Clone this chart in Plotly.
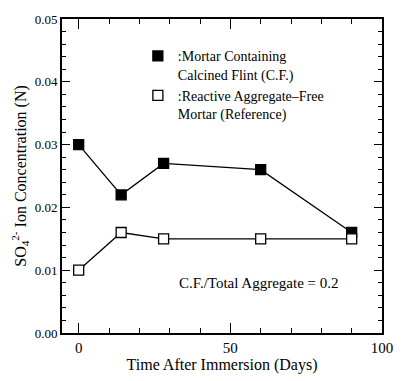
import plotly.graph_objects as go

days = [0, 14, 28, 60, 90]
cf_mortar = [0.030, 0.022, 0.027, 0.026, 0.016]
ref_mortar = [0.010, 0.016, 0.015, 0.015, 0.015]
series_names = [":Mortar Containing<br>Calcined Flint (C.F.)",
                ":Reactive Aggregate\u2013Free<br>Mortar (Reference)"]

FONT = "Liberation Serif"
X_RANGE = [-5.5, 100]
Y_RANGE = [0, 0.05]

fig = go.Figure()
for vals in [cf_mortar, ref_mortar]:
    fig.add_trace(go.Scatter(x=days, y=vals, mode="lines",
                             line=dict(color="black", width=1.3), showlegend=False))
for vals, fill, name in [(cf_mortar, "black", series_names[0]), (ref_mortar, "white", series_names[1])]:
    fig.add_trace(go.Scatter(
        x=days, y=vals, mode="markers", name=name,
        marker=dict(symbol="square", size=10, color=fill, line=dict(color="black", width=1.3))))

L, R, T, B = 62, 14, 18, 39
W, H = 405, 381
pw, ph = W - L - R, H - T - B

fig.add_annotation(xref="paper", yref="paper", x=(265 - L) / pw, y=1 - (290 - T) / ph,
                   xanchor="center", yanchor="middle",
                   text="C.F./Total Aggregate = 0.2", showarrow=False,
                   font=dict(family=FONT, size=15))

fig.update_layout(
    width=W, height=H, margin=dict(l=L, r=R, t=T, b=B),
    font=dict(family=FONT, color="black", size=14),
    paper_bgcolor="white", plot_bgcolor="white", showlegend=True,
    legend=dict(x=(140 - L) / pw, y=1 - (40 - T) / ph, xanchor="left", yanchor="top",
                bgcolor="rgba(0,0,0,0)", font=dict(family=FONT, size=14),
                valign="top", itemwidth=30, tracegroupgap=8),
    xaxis=dict(
        range=X_RANGE, dtick=50,
        ticks="inside", ticklen=10, tickwidth=1, tickcolor="black",
        minor=dict(dtick=10, ticks="inside", ticklen=5, tickwidth=1, tickcolor="black"),
        showline=True, linewidth=2, linecolor="black", mirror="ticks",
        showgrid=False, zeroline=False,
        tickfont=dict(family=FONT, size=15),
        title=dict(text="Time After Immersion (Days)", font=dict(family=FONT, size=16), standoff=2),
    ),
    yaxis=dict(
        range=Y_RANGE, dtick=0.01, tickformat=".2f",
        ticks="inside", ticklen=8, tickwidth=1, tickcolor="black",
        minor=dict(dtick=0.002, ticks="inside", ticklen=4, tickwidth=1, tickcolor="black"),
        showline=True, linewidth=2, linecolor="black", mirror="ticks",
        showgrid=False, zeroline=False,
        tickfont=dict(family=FONT, size=13),
        title=dict(text="SO<sub>4</sub><sup>2-</sup> Ion Concentration (N)", font=dict(family=FONT, size=16), standoff=4),
    ),
)
fig.write_html("out.html")
